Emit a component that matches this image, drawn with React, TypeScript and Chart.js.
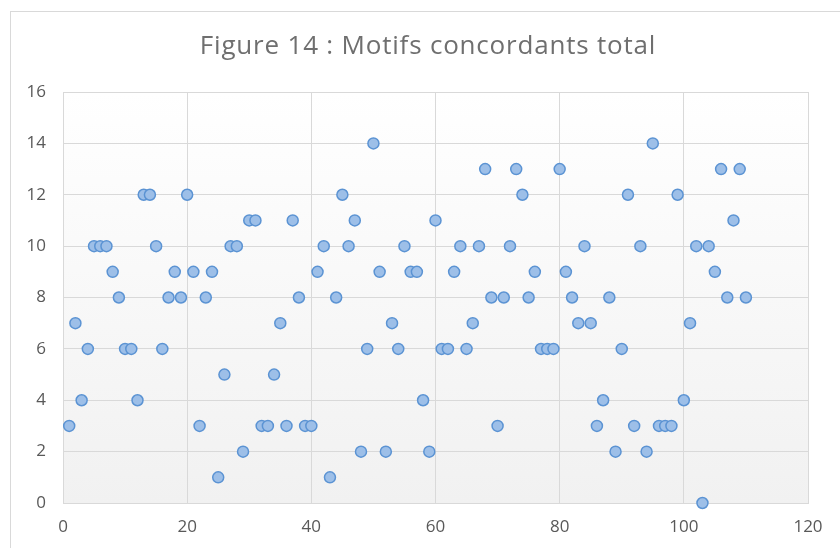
import React, { useEffect, useRef } from "react";
import { Chart, registerables } from "chart.js";

Chart.register(...registerables);

const TITLE = "Figure 14 : Motifs concordants total";
const X_VALUES: number[] = Array.from({ length: 110 }, (_, i) => i + 1);
const Y_VALUES: number[] = [
  3, 7, 4, 6, 10, 10, 10, 9, 8, 6,
  6, 4, 12, 12, 10, 6, 8, 9, 8, 12,
  9, 3, 8, 9, 1, 5, 10, 10, 2, 11,
  11, 3, 3, 5, 7, 3, 11, 8, 3, 3,
  9, 10, 1, 8, 12, 10, 11, 2, 6, 14,
  9, 2, 7, 6, 10, 9, 9, 4, 2, 11,
  6, 6, 9, 10, 6, 7, 10, 13, 8, 3,
  8, 10, 13, 12, 8, 9, 6, 6, 6, 13,
  9, 8, 7, 10, 7, 3, 4, 8, 2, 6,
  12, 3, 10, 2, 14, 3, 3, 3, 12, 4,
  7, 10, 0, 10, 9, 13, 8, 11, 13, 8,
];
const X_MIN = 0, X_MAX = 120, X_STEP = 20;
const Y_MIN = 0, Y_MAX = 16, Y_STEP = 2;

const FONT = "'Open Sans', 'Liberation Sans', sans-serif";

const decor = {
  id: "decor",
  beforeDraw(chart: any) {
    const { ctx, chartArea } = chart;
    ctx.save();
    // outer frame
    ctx.strokeStyle = "#d9d9d9";
    ctx.lineWidth = 1;
    ctx.strokeRect(10.5, 11.5, 1000, 1000);
    // plot area gradient
    const g = ctx.createLinearGradient(0, chartArea.top, 0, chartArea.bottom);
    g.addColorStop(0, "#ffffff");
    g.addColorStop(1, "#f1f1f1");
    ctx.fillStyle = g;
    ctx.fillRect(chartArea.left, chartArea.top, chartArea.right - chartArea.left, chartArea.bottom - chartArea.top);
    // title
    ctx.fillStyle = "#6f6f6f";
    ctx.font = `26px ${FONT}`;
    (ctx as any).letterSpacing = "0.8px";
    ctx.textAlign = "center";
    ctx.textBaseline = "middle";
    ctx.fillText(TITLE, 428, 47);
    (ctx as any).letterSpacing = "0px";
    ctx.restore();
  },
};

export default function App() {
  const ref = useRef<HTMLCanvasElement>(null);
  useEffect(() => {
    const chart = new Chart(ref.current!, {
      type: "scatter",
      data: {
        datasets: [
          {
            data: X_VALUES.map((x, i) => ({ x, y: Y_VALUES[i] })),
            pointRadius: 5.5,
            pointHoverRadius: 5.5,
            pointBackgroundColor: "#9dbfe8",
            pointBorderColor: "#5b93d3",
            pointBorderWidth: 1.5,
            clip: false as any,
          },
        ],
      },
      plugins: [decor],
      options: {
        animation: false,
        responsive: false,
        maintainAspectRatio: false,
        layout: { padding: { left: 0, right: 32, top: 92, bottom: 0 } },
        plugins: { legend: { display: false }, title: { display: false }, tooltip: { enabled: false } },
        scales: {
          x: {
            type: "linear",
            min: X_MIN,
            max: X_MAX,
            afterFit: (s: any) => { s.height = 45; },
            ticks: { stepSize: X_STEP, color: "#595959", font: { family: FONT, size: 17 }, padding: 14 },
            grid: { color: "#d9d9d9", lineWidth: 1, drawTicks: false },
            border: { color: "#d9d9d9", width: 1 },
          },
          y: {
            type: "linear",
            min: Y_MIN,
            max: Y_MAX,
            afterFit: (s: any) => { s.width = 63; },
            ticks: { stepSize: Y_STEP, color: "#595959", font: { family: FONT, size: 17 }, padding: 17 },
            grid: { color: "#d9d9d9", lineWidth: 1, drawTicks: false },
            border: { color: "#d9d9d9", width: 1 },
          },
        },
      },
    });
    return () => chart.destroy();
  }, []);
  return (
    <div style={{ position: "absolute", left: 0, top: 0, width: 840, height: 548, background: "#fff" }}>
      <canvas ref={ref} width={840} height={548} style={{ display: "block" }} />
    </div>
  );
}
